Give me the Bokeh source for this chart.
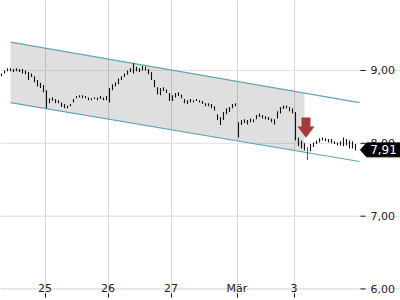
from bokeh.plotting import figure
from bokeh.models import Range1d, FixedTicker
from bokeh.core.properties import value
from bokeh.embed import file_html
from bokeh.resources import INLINE
import numpy as np

# ---- data ----
day_labels = ["25", "26", "27", "Mär", "3"]
day_start_bar = [15, 36, 57, 79, 98]

bar_hi = [8.96, 9.00, 9.03, 9.03, 9.02, 9.03, 9.02, 9.02, 9.00, 8.98,
          8.96, 8.92, 8.87, 8.83, 8.80, 8.73, 8.62, 8.63, 8.61, 8.59,
          8.56, 8.54, 8.52, 8.54, 8.61, 8.65, 8.66, 8.66, 8.65, 8.63,
          8.62, 8.63, 8.63, 8.65, 8.63, 8.65, 8.76, 8.81, 8.84, 8.89,
          8.92, 8.96, 9.00, 9.03, 9.10, 9.05, 9.03, 9.06, 9.05, 9.02,
          8.98, 8.87, 8.77, 8.76, 8.77, 8.74, 8.69, 8.66, 8.69, 8.70,
          8.67, 8.61, 8.59, 8.61, 8.59, 8.61, 8.59, 8.58, 8.55, 8.55,
          8.54, 8.51, 8.40, 8.36, 8.43, 8.48, 8.50, 8.54, 8.55, 8.29,
          8.32, 8.33, 8.32, 8.34, 8.33, 8.39, 8.41, 8.39, 8.37, 8.36,
          8.34, 8.33, 8.44, 8.50, 8.52, 8.52, 8.50, 8.48, 8.43, 8.08,
          8.04, 8.00, 7.95, 7.99, 8.01, 8.04, 8.07, 8.08, 8.07, 8.06,
          8.06, 8.03, 8.01, 8.03, 8.08, 8.06, 8.04, 8.03, 7.99]
bar_lo = [8.92, 8.96, 8.99, 8.99, 8.98, 8.99, 8.98, 8.96, 8.95, 8.87,
          8.91, 8.84, 8.78, 8.76, 8.70, 8.48, 8.55, 8.58, 8.55, 8.55,
          8.50, 8.48, 8.48, 8.51, 8.56, 8.62, 8.63, 8.62, 8.62, 8.59,
          8.59, 8.61, 8.59, 8.61, 8.59, 8.59, 8.56, 8.73, 8.78, 8.81,
          8.87, 8.91, 8.94, 8.98, 8.96, 8.99, 8.98, 9.00, 9.00, 8.95,
          8.87, 8.77, 8.67, 8.66, 8.72, 8.69, 8.58, 8.58, 8.63, 8.65,
          8.62, 8.55, 8.54, 8.56, 8.56, 8.58, 8.56, 8.54, 8.51, 8.51,
          8.48, 8.45, 8.32, 8.25, 8.32, 8.40, 8.43, 8.48, 8.51, 8.08,
          8.25, 8.28, 8.26, 8.29, 8.29, 8.33, 8.36, 8.34, 8.33, 8.32,
          8.29, 8.26, 8.34, 8.41, 8.47, 8.48, 8.44, 8.41, 8.04, 7.96,
          7.93, 7.90, 7.77, 7.89, 7.95, 7.99, 8.01, 8.04, 8.03, 8.01,
          8.00, 7.99, 7.97, 7.97, 7.96, 7.97, 7.93, 7.93, 7.90]
last_price = 7.91

chan_x = [3.0, 119.33]
chan_upper = [9.39, 8.56]
chan_lower = [8.56, 7.75]
chan_fill_end = 101.0

signal_bar = 102
signal_top = 8.35
signal_tip = 8.08

y_ticks = [6, 7, 8, 9]
y_labels = ["6,00", "7,00", "8,00", "9,00"]

# ---- layout constants (pixels -> x units, 3 px per bar) ----
PX = 1.0 / 3.0
X0 = -PX
def xpx(px):
    return X0 + px * PX

FONT = "DejaVu Sans"

p = figure(width=400, height=300,
           x_range=Range1d(xpx(0), xpx(400)), y_range=Range1d(5.938, 9.961),
           output_backend="svg", toolbar_location=None,
           y_axis_location=None,
           min_border_left=0, min_border_top=0,
           min_border_right=0, min_border_bottom=7)
p.outline_line_color = None
p.background_fill_color = "white"

# x axis (below)
xt = [b - 0.5 for b in day_start_bar]
p.xaxis.ticker = FixedTicker(ticks=xt)
p.xaxis.major_label_overrides = {t: l for t, l in zip(xt, day_labels)}
p.xaxis.axis_line_color = None
p.xaxis.major_tick_in = 0
p.xaxis.major_tick_out = 4
p.xaxis.major_tick_line_color = "#111111"
p.xaxis.minor_tick_line_color = None
p.xaxis.major_label_standoff = -16
p.xaxis.major_label_text_font = FONT
p.xaxis.major_label_text_font_size = "11px"
p.xaxis.major_label_text_color = "#222222"
p.xgrid.grid_line_color = "#d8d8d8"
p.xgrid.grid_line_width = 1

# horizontal grid lines ending before the price scale, plus price-scale ticks and labels
n = len(y_ticks)
p.segment(x0=[xpx(0)] * n, y0=y_ticks, x1=[xpx(358)] * n, y1=y_ticks,
          line_color="#d8d8d8", line_width=1, level="underlay")
p.segment(x0=[xpx(360)] * n, y0=y_ticks, x1=[xpx(365)] * n, y1=y_ticks,
          line_color="#111111", line_width=1)
p.text(x=[xpx(370)] * n, y=y_ticks, text=y_labels,
       text_font=value(FONT), text_font_size="11px", text_color="#222222",
       text_align="left", text_baseline="middle")

# channel fill
sl_u = (chan_upper[1] - chan_upper[0]) / (chan_x[1] - chan_x[0])
sl_l = (chan_lower[1] - chan_lower[0]) / (chan_x[1] - chan_x[0])
u_end = chan_upper[0] + sl_u * (chan_fill_end - chan_x[0])
l_end = chan_lower[0] + sl_l * (chan_fill_end - chan_x[0])
p.patch([chan_x[0], chan_fill_end, chan_fill_end, chan_x[0]],
        [chan_upper[0], u_end, l_end, chan_lower[0]],
        fill_color="#000000", fill_alpha=0.125, line_color=None)
p.line(chan_x, chan_upper, line_color="#5fa7b1", line_width=1.2)
p.line(chan_x, chan_lower, line_color="#5fa7b1", line_width=1.2)

# bars
idx = np.arange(len(bar_hi))
colors = ["#a33b3b" if i == signal_bar else "#111111" for i in idx]
p.segment(x0=idx, y0=bar_lo, x1=idx, y1=bar_hi, line_color=colors, line_width=1.1)

# signal arrow
cx = signal_bar - 0.5
head_base = signal_top - (signal_top - signal_tip) * 0.45
ax = [cx - 1.4, cx + 1.4, cx + 1.4, cx + 2.7, cx, cx - 2.7, cx - 1.4]
ay = [signal_top, signal_top, head_base, head_base, signal_tip, head_base, head_base]
p.patch(ax, ay, fill_color="#a53a3a", line_color="#a53a3a", line_width=0.5)

# last price tag
h = 0.096
p.patch([xpx(360), xpx(366), xpx(400), xpx(400), xpx(366)],
        [last_price, last_price + h, last_price + h, last_price - h, last_price - h],
        fill_color="black", line_color="black")
p.text(x=[xpx(383)], y=[last_price], text=[f"{last_price:.2f}".replace(".", ",")],
       text_font=value(FONT), text_font_size="12px", text_color="white",
       text_align="center", text_baseline="middle")

open("out.html", "w").write(file_html(p, INLINE))
